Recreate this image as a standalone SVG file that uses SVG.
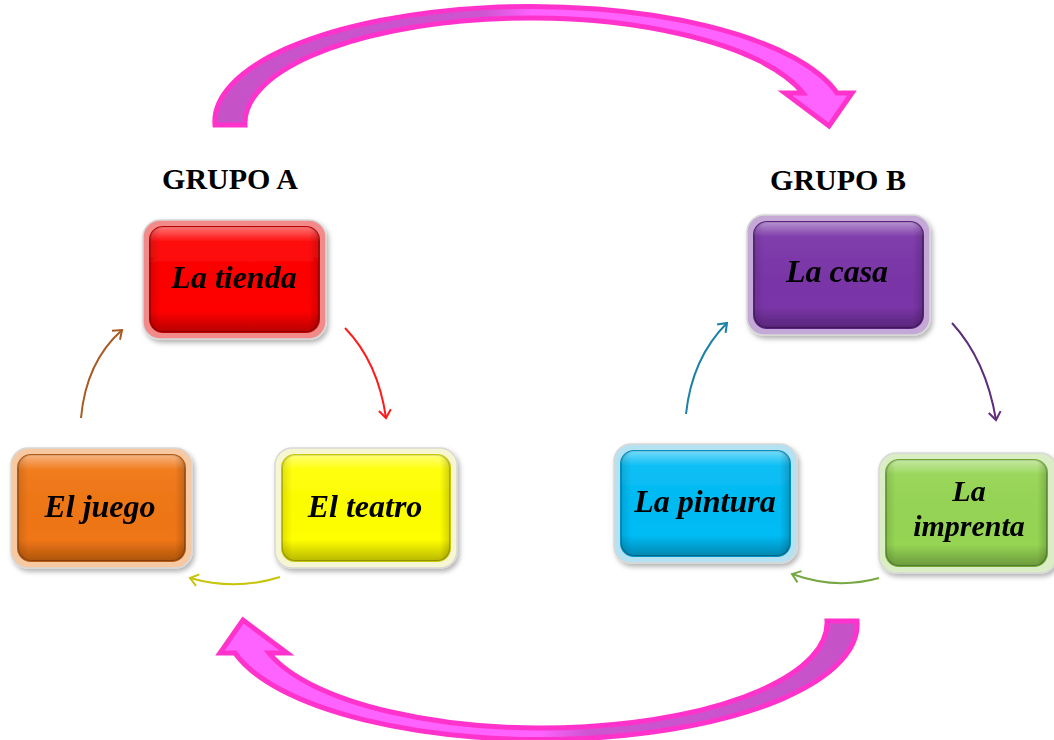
<svg xmlns="http://www.w3.org/2000/svg" xmlns:xlink="http://www.w3.org/1999/xlink" width="1054" height="740" viewBox="0 0 1054 740">
<style>
.lbl{font-family:"Liberation Serif","Times New Roman",serif;font-weight:bold;font-style:italic;font-size:32px;fill:#000;text-anchor:middle}
.lbl2{font-family:"Liberation Serif","Times New Roman",serif;font-weight:bold;font-style:italic;font-size:30px;fill:#000;text-anchor:middle}
.grp{font-family:"Liberation Serif","Times New Roman",serif;font-weight:bold;font-size:30px;fill:#000;text-anchor:middle}
.rim{stroke:#d8d8d8;stroke-width:1.5}
.face{stroke-width:2}
.conn{fill:none;stroke-width:2}
.big{stroke:#FF33CC;stroke-width:5;stroke-linejoin:miter}
</style>
<defs>
<filter id="sh" x="-10%" y="-10%" width="125%" height="130%">
<feDropShadow dx="2" dy="3" stdDeviation="2.5" flood-color="#000" flood-opacity="0.3"/>
</filter>
<linearGradient id="bevel" x1="0" y1="0" x2="0" y2="1">
<stop offset="0" stop-color="#fff" stop-opacity="0.45"/>
<stop offset="0.14" stop-color="#fff" stop-opacity="0.05"/>
<stop offset="0.8" stop-color="#000" stop-opacity="0"/>
<stop offset="1" stop-color="#000" stop-opacity="0.28"/>
</linearGradient>
<linearGradient id="side" x1="0" y1="0" x2="1" y2="0">
<stop offset="0" stop-color="#000" stop-opacity="0.12"/>
<stop offset="0.06" stop-color="#000" stop-opacity="0"/>
<stop offset="0.94" stop-color="#000" stop-opacity="0"/>
<stop offset="1" stop-color="#000" stop-opacity="0.18"/>
</linearGradient>
<linearGradient id="bandfill" x1="0" y1="0" x2="1" y2="0">
<stop offset="0" stop-color="#C652C8"/>
<stop offset="0.42" stop-color="#CC55D0"/>
<stop offset="0.5" stop-color="#FF63FF"/>
<stop offset="1" stop-color="#FF63FF"/>
</linearGradient>
<path id="bigarrow" class="big" fill="url(#bandfill)" d="M215,125 A316,115 0 0 1 837,93 L852,93 L829,126 L785,93 L803,93 A285,105 0 0 0 245,125 Z"/>
<marker id="mBrown" viewBox="-10 -8 12 16" refX="0" refY="0" markerWidth="12" markerHeight="16" markerUnits="userSpaceOnUse" orient="auto"><path d="M-8,-6 L0,0 L-8,6" fill="none" stroke="#A85A20" stroke-width="2"/></marker>
<marker id="mRed" viewBox="-10 -8 12 16" refX="0" refY="0" markerWidth="12" markerHeight="16" markerUnits="userSpaceOnUse" orient="auto"><path d="M-8,-6 L0,0 L-8,6" fill="none" stroke="#FF1A1A" stroke-width="2"/></marker>
<marker id="mYel" viewBox="-10 -8 12 16" refX="0" refY="0" markerWidth="12" markerHeight="16" markerUnits="userSpaceOnUse" orient="auto"><path d="M-8,-6 L0,0 L-8,6" fill="none" stroke="#C8C40A" stroke-width="2"/></marker>
<marker id="mPur" viewBox="-10 -8 12 16" refX="0" refY="0" markerWidth="12" markerHeight="16" markerUnits="userSpaceOnUse" orient="auto"><path d="M-8,-6 L0,0 L-8,6" fill="none" stroke="#5E2D7A" stroke-width="2"/></marker>
<marker id="mBlue" viewBox="-10 -8 12 16" refX="0" refY="0" markerWidth="12" markerHeight="16" markerUnits="userSpaceOnUse" orient="auto"><path d="M-8,-6 L0,0 L-8,6" fill="none" stroke="#1B80A8" stroke-width="2"/></marker>
<marker id="mGrn" viewBox="-10 -8 12 16" refX="0" refY="0" markerWidth="12" markerHeight="16" markerUnits="userSpaceOnUse" orient="auto"><path d="M-8,-6 L0,0 L-8,6" fill="none" stroke="#76A844" stroke-width="2"/></marker>
</defs>
<rect width="1054" height="740" fill="#fff"/>

<g id="big-arrows">
<use xlink:href="#bigarrow" href="#bigarrow"/>
<use xlink:href="#bigarrow" href="#bigarrow" transform="rotate(180 536 373)"/>
</g>

<text class="grp" x="230" y="189">GRUPO A</text>
<text class="grp" x="838" y="190">GRUPO B</text>

<g id="connectors">
<path class="conn" stroke="#A85A20" marker-end="url(#mBrown)" d="M81,418 Q86,362 122,330"/>
<path class="conn" stroke="#FF1A1A" marker-end="url(#mRed)" d="M345,328 Q378,362 386,418"/>
<path class="conn" stroke="#C8C40A" marker-end="url(#mYel)" d="M280,577 Q236,591 190,578"/>
<path class="conn" stroke="#5E2D7A" marker-end="url(#mPur)" d="M952,323 Q986,360 996,420"/>
<path class="conn" stroke="#1B80A8" marker-end="url(#mBlue)" d="M686,414 Q692,358 727,323"/>
<path class="conn" stroke="#76A844" marker-end="url(#mGrn)" d="M879,578 Q836,590 792,574"/>
</g>

<g id="la-tienda" filter="url(#sh)">
<rect class="rim" x="143" y="220" width="183" height="119" rx="17" fill="#F28A8A"/>
<rect class="face" x="150" y="227" width="169" height="105" rx="13" fill="#FF0000" stroke="#C00000"/>
<rect x="150" y="227" width="169" height="105" rx="13" fill="url(#bevel)"/>
<rect x="150" y="227" width="169" height="105" rx="13" fill="url(#side)"/>
<text class="lbl" x="234" y="288">La tienda</text>
</g>

<g id="el-juego" filter="url(#sh)">
<rect class="rim" x="11" y="448" width="181" height="120" rx="17" fill="#F6C9A2"/>
<rect class="face" x="18" y="455" width="167" height="106" rx="13" fill="#F07614" stroke="#B85A10"/>
<rect x="18" y="455" width="167" height="106" rx="13" fill="url(#bevel)"/>
<rect x="18" y="455" width="167" height="106" rx="13" fill="url(#side)"/>
<text class="lbl" x="100" y="517">El juego</text>
</g>

<g id="el-teatro" filter="url(#sh)">
<rect class="rim" x="275" y="448" width="182" height="120" rx="17" fill="#F6F6D2"/>
<rect class="face" x="282" y="455" width="168" height="106" rx="13" fill="#FFFF00" stroke="#C8C800"/>
<rect x="282" y="455" width="168" height="106" rx="13" fill="url(#bevel)"/>
<rect x="282" y="455" width="168" height="106" rx="13" fill="url(#side)"/>
<text class="lbl" x="365" y="517">El teatro</text>
</g>

<g id="la-casa" filter="url(#sh)">
<rect class="rim" x="747" y="215" width="183" height="120" rx="17" fill="#C4A8D6"/>
<rect class="face" x="754" y="222" width="169" height="106" rx="13" fill="#7A35A8" stroke="#5A2280"/>
<rect x="754" y="222" width="169" height="106" rx="13" fill="url(#bevel)"/>
<rect x="754" y="222" width="169" height="106" rx="13" fill="url(#side)"/>
<text class="lbl" x="837" y="282">La casa</text>
</g>

<g id="la-pintura" filter="url(#sh)">
<rect class="rim" x="614" y="444" width="183" height="119" rx="17" fill="#B4E2F2"/>
<rect class="face" x="621" y="451" width="169" height="105" rx="13" fill="#00BCF5" stroke="#0090C0"/>
<rect x="621" y="451" width="169" height="105" rx="13" fill="url(#bevel)"/>
<rect x="621" y="451" width="169" height="105" rx="13" fill="url(#side)"/>
<text class="lbl" x="705" y="512">La pintura</text>
</g>

<g id="la-imprenta" filter="url(#sh)">
<rect class="rim" x="879" y="453" width="178" height="120" rx="17" fill="#DAEDC4"/>
<rect class="face" x="886" y="460" width="161" height="106" rx="13" fill="#95D553" stroke="#6FA838"/>
<rect x="886" y="460" width="161" height="106" rx="13" fill="url(#bevel)"/>
<rect x="886" y="460" width="161" height="106" rx="13" fill="url(#side)"/>
<text class="lbl2" x="969" y="501">La</text>
<text class="lbl2" x="969" y="536">imprenta</text>
</g>
</svg>
